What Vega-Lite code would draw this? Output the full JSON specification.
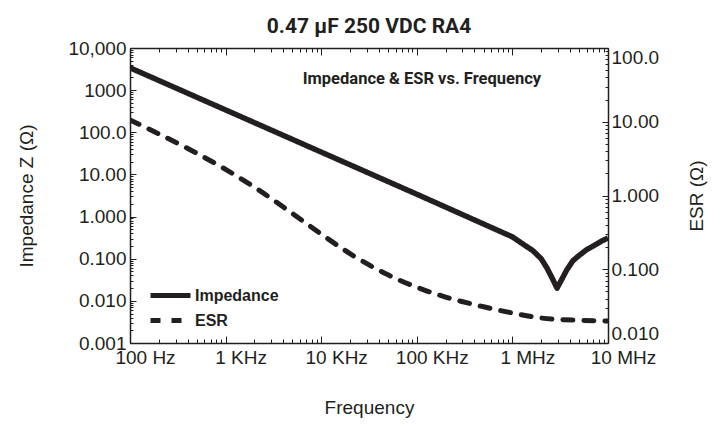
{
  "$schema": "https://vega.github.io/schema/vega-lite/v6.json",
  "width": 478,
  "height": 295,
  "autosize": {"type": "none"},
  "padding": {"left": 130, "top": 48, "right": 114, "bottom": 85},
  "background": "white",
  "title": {
    "text": "0.47 µF 250 VDC RA4",
    "font": "Roboto",
    "fontSize": 21,
    "fontWeight": "bold",
    "color": "#231f20",
    "anchor": "middle",
    "offset": 2
  },
  "config": {
    "view": {"stroke": null},
    "axis": {
      "grid": false,
      "domainColor": "#231f20",
      "domainWidth": 1.5,
      "tickColor": "#231f20",
      "tickWidth": 1,
      "labelFont": "Liberation Sans",
      "labelFontSize": 19,
      "labelColor": "#231f20",
      "labelOverlap": false,
      "labelBound": false,
      "titleFont": "Liberation Sans",
      "titleFontSize": 19,
      "titleFontWeight": "normal",
      "titleColor": "#231f20"
    }
  },
  "datasets": {
    "impedance": [
      {"freq": 100, "ohms": 3390, "series": "Impedance"},
      {"freq": 1000, "ohms": 339, "series": "Impedance"},
      {"freq": 10000, "ohms": 33.9, "series": "Impedance"},
      {"freq": 100000, "ohms": 3.39, "series": "Impedance"},
      {"freq": 1000000, "ohms": 0.33, "series": "Impedance"},
      {"freq": 1300000, "ohms": 0.22, "series": "Impedance"},
      {"freq": 1640000, "ohms": 0.155, "series": "Impedance"},
      {"freq": 2000000, "ohms": 0.1, "series": "Impedance"},
      {"freq": 2300000, "ohms": 0.06, "series": "Impedance"},
      {"freq": 2600000, "ohms": 0.035, "series": "Impedance"},
      {"freq": 2930000, "ohms": 0.02, "series": "Impedance"},
      {"freq": 3300000, "ohms": 0.033, "series": "Impedance"},
      {"freq": 3700000, "ohms": 0.054, "series": "Impedance"},
      {"freq": 4300000, "ohms": 0.09, "series": "Impedance"},
      {"freq": 5000000, "ohms": 0.12, "series": "Impedance"},
      {"freq": 6000000, "ohms": 0.165, "series": "Impedance"},
      {"freq": 7000000, "ohms": 0.2, "series": "Impedance"},
      {"freq": 8500000, "ohms": 0.26, "series": "Impedance"},
      {"freq": 10000000, "ohms": 0.31, "series": "Impedance"}
    ],
    "esr": [
      {"freq": 100, "ohms": 10.6, "series": "ESR"},
      {"freq": 200, "ohms": 6.84, "series": "ESR"},
      {"freq": 500, "ohms": 3.73, "series": "ESR"},
      {"freq": 1000, "ohms": 2.26, "series": "ESR"},
      {"freq": 2000, "ohms": 1.3, "series": "ESR"},
      {"freq": 5000, "ohms": 0.57, "series": "ESR"},
      {"freq": 10000, "ohms": 0.3, "series": "ESR"},
      {"freq": 20000, "ohms": 0.163, "series": "ESR"},
      {"freq": 50000, "ohms": 0.084, "series": "ESR"},
      {"freq": 100000, "ohms": 0.057, "series": "ESR"},
      {"freq": 200000, "ohms": 0.042, "series": "ESR"},
      {"freq": 500000, "ohms": 0.031, "series": "ESR"},
      {"freq": 1000000, "ohms": 0.0255, "series": "ESR"},
      {"freq": 2000000, "ohms": 0.0218, "series": "ESR"},
      {"freq": 5000000, "ohms": 0.0203, "series": "ESR"},
      {"freq": 10000000, "ohms": 0.0199, "series": "ESR"}
    ],
    "caption": [
      {"freq": 113000, "ohms": 1840, "label": "Impedance & ESR vs. Frequency"}
    ]
  },
  "layer": [
    {
      "data": {"name": "impedance"},
      "mark": {"type": "line", "stroke": "#231f20", "strokeWidth": 5.5, "clip": true, "strokeJoin": "round"},
      "encoding": {
        "x": {
          "field": "freq",
          "type": "quantitative",
          "scale": {"type": "log", "domain": [100, 10000000], "nice": false},
          "axis": {
            "orient": "bottom",
            "title": "Frequency",
            "titlePadding": 28,
            "values": [100, 200, 300, 400, 500, 600, 700, 800, 900, 1000, 2000, 3000, 4000, 5000, 6000, 7000, 8000, 9000, 10000, 20000, 30000, 40000, 50000, 60000, 70000, 80000, 90000, 100000, 200000, 300000, 400000, 500000, 600000, 700000, 800000, 900000, 1000000, 2000000, 3000000, 4000000, 5000000, 6000000, 7000000, 8000000, 9000000, 10000000],
            "labelExpr": "datum.value == 100 ? '100 Hz' : datum.value == 1000 ? '1 KHz' : datum.value == 10000 ? '10 KHz' : datum.value == 100000 ? '100 KHz' : datum.value == 1000000 ? '1 MHz' : datum.value == 10000000 ? '10 MHz' : ''",
            "tickSize": {"condition": {"test": "abs(log(datum.value)/LN10 - round(log(datum.value)/LN10)) < 0.001", "value": -7}, "value": -4},
            "labelPadding": 12,
            "labelFlush": false,
            "labelOffset": 15
          }
        },
        "y": {
          "field": "ohms",
          "type": "quantitative",
          "scale": {"type": "log", "domain": [0.001, 10000], "nice": false},
          "axis": {
            "orient": "left",
            "title": "Impedance Z (Ω)",
            "titleX": -104,
            "titleY": 147.5,
            "titleAngle": -90,
            "titleAlign": "center",
            "titleBaseline": "middle",
            "values": [0.001, 0.002, 0.003, 0.004, 0.005, 0.006, 0.007, 0.008, 0.009, 0.01, 0.02, 0.03, 0.04, 0.05, 0.06, 0.07, 0.08, 0.09, 0.1, 0.2, 0.3, 0.4, 0.5, 0.6, 0.7, 0.8, 0.9, 1, 2, 3, 4, 5, 6, 7, 8, 9, 10, 20, 30, 40, 50, 60, 70, 80, 90, 100, 200, 300, 400, 500, 600, 700, 800, 900, 1000, 2000, 3000, 4000, 5000, 6000, 7000, 8000, 9000, 10000],
            "labelExpr": "datum.value == 10000 ? '10,000' : datum.value == 1000 ? '1000' : datum.value == 100 ? '100.0' : datum.value == 10 ? '10.00' : datum.value == 1 ? '1.000' : datum.value == 0.1 ? '0.100' : datum.value == 0.01 ? '0.010' : datum.value == 0.001 ? '0.001' : ''",
            "tickSize": {"condition": {"test": "abs(log(datum.value)/LN10 - round(log(datum.value)/LN10)) < 0.001", "value": -6}, "value": -3},
            "labelPadding": 10
          }
        },
        "strokeDash": {
          "field": "series",
          "type": "nominal",
          "scale": {"domain": ["Impedance", "ESR"], "range": [[1, 0], [10, 11]]},
          "legend": {
            "title": null,
            "orient": "none",
            "legendX": 28,
            "legendY": 235,
            "padding": 0,
            "symbolType": "M-2,0L2,0",
            "symbolSize": 400,
            "symbolStrokeWidth": 5,
            "symbolStrokeColor": "#231f20",
            "labelFont": "Liberation Sans",
            "labelFontSize": 16,
            "labelFontWeight": "bold",
            "labelColor": "#231f20",
            "labelOffset": 12,
            "rowPadding": 2
          }
        }
      }
    },
    {
      "data": {"name": "esr"},
      "mark": {"type": "line", "stroke": "#231f20", "strokeWidth": 5, "strokeCap": "round", "interpolate": "monotone", "clip": true},
      "encoding": {
        "x": {
          "field": "freq",
          "type": "quantitative",
          "scale": {"type": "log", "domain": [100, 10000000], "nice": false},
          "axis": {
            "orient": "top",
            "title": null,
            "labels": false,
            "values": [100, 200, 300, 400, 500, 600, 700, 800, 900, 1000, 2000, 3000, 4000, 5000, 6000, 7000, 8000, 9000, 10000, 20000, 30000, 40000, 50000, 60000, 70000, 80000, 90000, 100000, 200000, 300000, 400000, 500000, 600000, 700000, 800000, 900000, 1000000, 2000000, 3000000, 4000000, 5000000, 6000000, 7000000, 8000000, 9000000, 10000000],
            "tickSize": {"condition": {"test": "abs(log(datum.value)/LN10 - round(log(datum.value)/LN10)) < 0.001", "value": -7}, "value": -4}
          }
        },
        "y": {
          "field": "ohms",
          "type": "quantitative",
          "scale": {"type": "log", "domain": [0.01, 100], "nice": false},
          "axis": {
            "orient": "right",
            "title": "ESR (Ω)",
            "titleX": 88,
            "titleY": 147.5,
            "titleAngle": -90,
            "titleAlign": "center",
            "titleBaseline": "middle",
            "values": [0.01, 0.02, 0.03, 0.04, 0.05, 0.06, 0.07, 0.08, 0.09, 0.1, 0.2, 0.3, 0.4, 0.5, 0.6, 0.7, 0.8, 0.9, 1, 2, 3, 4, 5, 6, 7, 8, 9, 10, 20, 30, 40, 50, 60, 70, 80, 90, 100],
            "labelExpr": "datum.value == 100 ? '100.0' : datum.value == 10 ? '10.00' : datum.value == 1 ? '1.000' : datum.value == 0.1 ? '0.100' : datum.value == 0.01 ? '0.010' : ''",
            "labelFlush": true,
            "tickSize": {"condition": {"test": "abs(log(datum.value)/LN10 - round(log(datum.value)/LN10)) < 0.001", "value": -6}, "value": -3},
            "labelPadding": 9
          }
        },
        "strokeDash": {"field": "series", "type": "nominal"}
      }
    },
    {
      "data": {"name": "caption"},
      "mark": {"type": "text", "font": "Roboto", "fontSize": 16.5, "fontWeight": "bold", "color": "#231f20", "align": "center", "baseline": "middle"},
      "encoding": {
        "x": {"field": "freq", "type": "quantitative", "scale": {"type": "log", "domain": [100, 10000000], "nice": false}, "axis": null},
        "y": {"field": "ohms", "type": "quantitative", "scale": {"type": "log", "domain": [0.001, 10000], "nice": false}, "axis": null},
        "text": {"field": "label"}
      }
    }
  ],
  "resolve": {
    "scale": {"y": "independent"},
    "axis": {"x": "independent", "y": "independent"}
  }
}
